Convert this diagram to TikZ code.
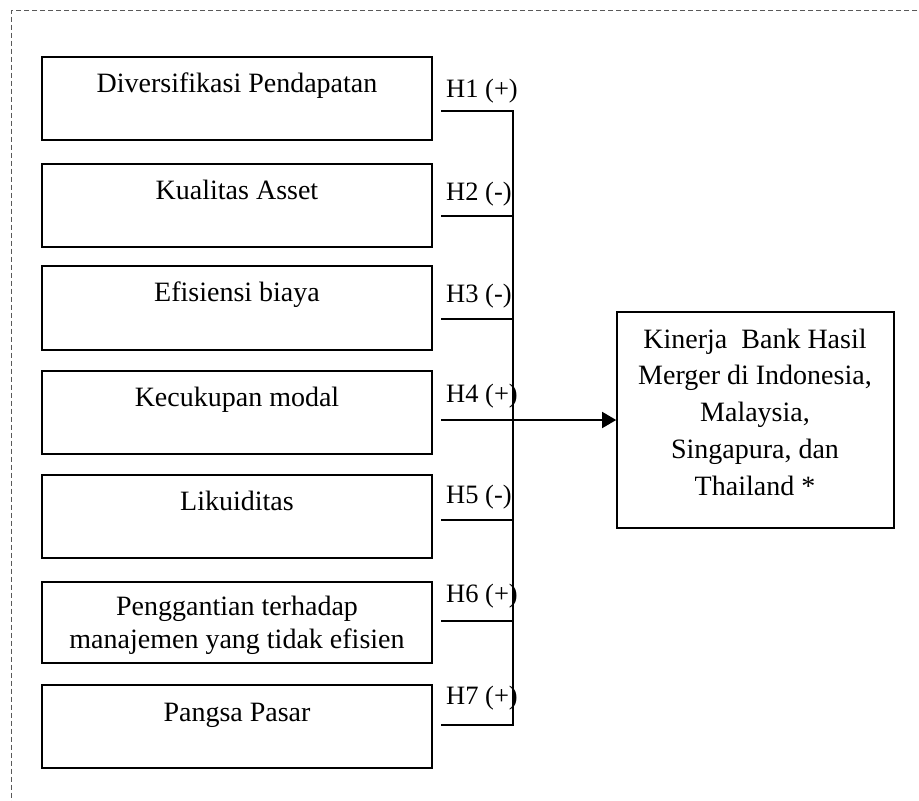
\documentclass[tikz,border=0pt]{standalone}
\usepackage{fontspec}
\setmainfont{Liberation Serif}
\usetikzlibrary{arrows.meta}
\begin{document}
\begin{tikzpicture}[x=1pt,y=-1pt,
  lbox/.style={draw,line width=1.6pt,minimum width=390pt,inner sep=0pt},
  ltext/.style={anchor=base,inner sep=0pt,font=\fontsize{28}{33}\selectfont},
  hlab/.style={anchor=base west,inner sep=0pt,font=\fontsize{26.5}{32}\selectfont},
  conn/.style={line width=1.5pt},
  frame/.style={draw=black!65,line width=0.8pt,dash pattern=on 5pt off 3pt}]
\useasboundingbox (0,0) rectangle (919,801);
% dashed frame
\coordinate (fr1) at (925,10.5);
\coordinate (fr2) at (11,10.5);
\coordinate (fr3) at (11,810);
\draw[frame] (fr1) -- (fr2) -- (fr3);
% left boxes
\node[lbox,minimum height=83pt] (b1) at (237,98.5) {};
\node[lbox,minimum height=83pt] (b2) at (237,205.5) {};
\node[lbox,minimum height=84pt] (b3) at (237,308) {};
\node[lbox,minimum height=83pt] (b4) at (237,412.5) {};
\node[lbox,minimum height=83pt] (b5) at (237,516.5) {};
\node[lbox,minimum height=81pt] (b6) at (237,622.5) {};
\node[lbox,minimum height=83pt] (b7) at (237,726.5) {};
\node[ltext] (t1) at (237,92) {Diversifikasi Pendapatan};
\node[ltext] (t2) at (237,199) {Kualitas Asset};
\node[ltext] (t3) at (237,301) {Efisiensi biaya};
\node[ltext] (t4) at (237,406) {Kecukupan modal};
\node[ltext] (t5) at (237,510) {Likuiditas};
\begin{scope}
\clip (43,583) rectangle (431,662.5);
\node[ltext] (t6a) at (237,615) {Penggantian terhadap};
\node[ltext] (t6b) at (237,648) {manajemen yang tidak efisien};
\end{scope}
\node[ltext] (t7) at (237,721) {Pangsa Pasar};
% target box
\node[draw,line width=1.6pt,minimum width=277pt,minimum height=216pt,inner sep=0pt] (tg) at (755.5,420) {};
\node[anchor=base,inner sep=0pt,align=center,font=\fontsize{28}{36.75}\selectfont] (tt) at (755,495)
  {Kinerja\ \ Bank Hasil\\Merger di Indonesia,\\Malaysia,\\Singapura, dan\\Thailand *};
% hypothesis labels
\node[hlab] (h1) at (446,97) {H1 (+)};
\node[hlab] (h2) at (446,200) {H2 (-)};
\node[hlab] (h3) at (446,302) {H3 (-)};
\node[hlab] (h4) at (446,402) {H4 (+)};
\node[hlab] (h5) at (446,503) {H5 (-)};
\node[hlab] (h6) at (446,602) {H6 (+)};
\node[hlab] (h7) at (446,704) {H7 (+)};
% connector coordinates
\coordinate (s1) at (441,111);
\coordinate (s2) at (441,216);
\coordinate (s3) at (441,319);
\coordinate (s4) at (441,420);
\coordinate (s5) at (441,520);
\coordinate (s6) at (441,621);
\coordinate (s7) at (441,725);
\coordinate (v1) at (513,111);
\coordinate (v2) at (513,216);
\coordinate (v3) at (513,319);
\coordinate (v5) at (513,520);
\coordinate (v6) at (513,621);
\coordinate (v7) at (513,725);
\draw[conn] (s1) -- (v1) -- (v7) -- (s7);
\draw[conn] (s2) -- (v2);
\draw[conn] (s3) -- (v3);
\draw[conn] (s5) -- (v5);
\draw[conn] (s6) -- (v6);
\draw[conn,-{Triangle[length=14pt,width=16pt]}] (s4) -- (s4 -| tg.west);
\end{tikzpicture}
\end{document}
